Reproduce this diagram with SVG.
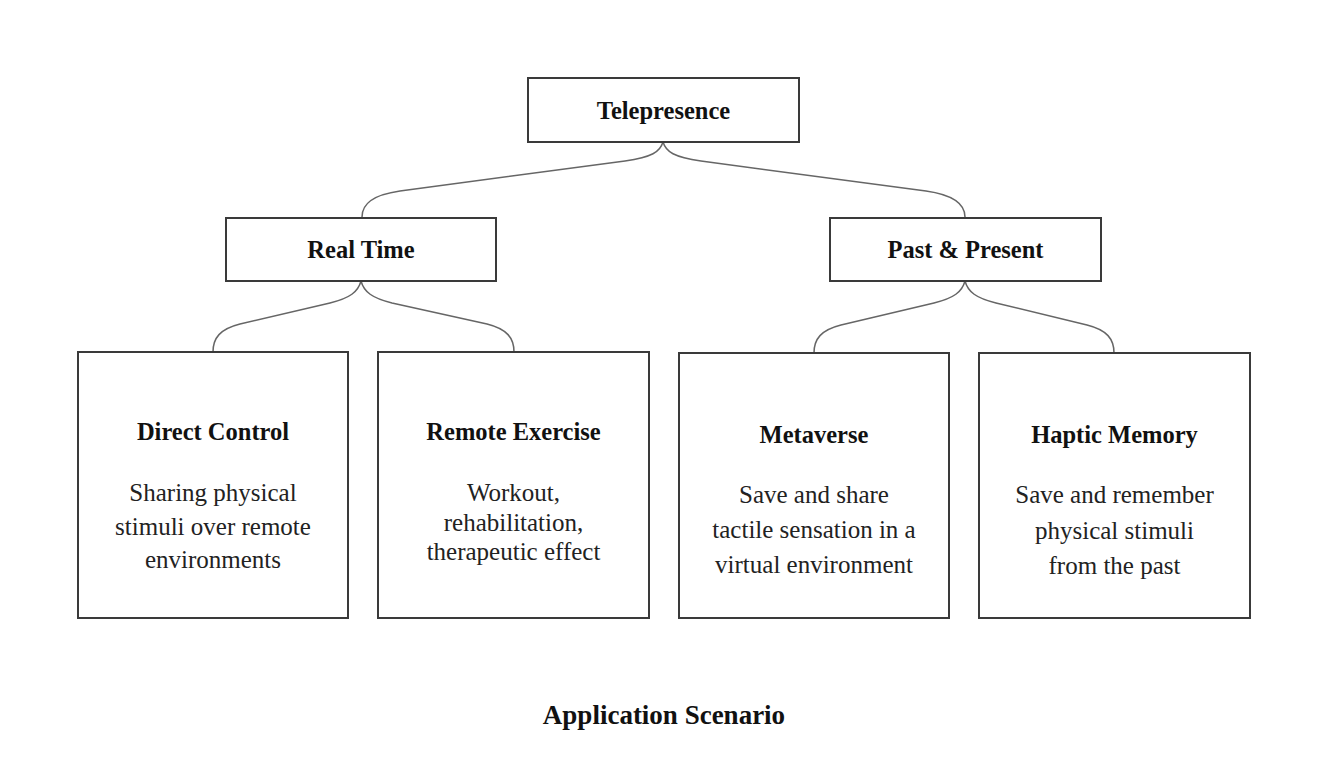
<svg xmlns="http://www.w3.org/2000/svg" width="1320" height="770" viewBox="0 0 1320 770">
<style>
.box{fill:#fff;stroke:#3a3a3a;stroke-width:2}
.t{font-family:"Liberation Serif","Times New Roman",serif;font-weight:bold;font-size:24.5px;fill:#111;text-anchor:middle}
.b{font-family:"Liberation Serif","Times New Roman",serif;font-size:25px;fill:#222;text-anchor:middle}
.c{fill:none;stroke:#666;stroke-width:1.5}
</style>
<rect width="1320" height="770" fill="#fff"/>
<g id="connectors">
<path class="c" d="M663,142 C660,152 652,157 625,161 L400,191 C372,195 362,204 362,217"/>
<path class="c" d="M663,142 C666,152 674,157 701,161 L926,191 C954,195 965,204 965,217"/>
<path class="c" d="M361,281 C358,292 350,298 330,303 L240,324 C220,329 213,338 213,352"/>
<path class="c" d="M361,281 C364,292 372,298 392,303 L487,324 C507,329 514,338 514,352"/>
<path class="c" d="M965,281 C962,292 954,298 934,303 L841,325 C821,330 814,339 814,353"/>
<path class="c" d="M965,281 C968,292 976,298 996,303 L1087,325 C1107,330 1114,339 1114,353"/>
</g>
<g id="telepresence">
<rect class="box" x="528" y="78" width="271" height="64"/>
<text class="t" x="663.5" y="119">Telepresence</text>
</g>
<g id="real-time">
<rect class="box" x="226" y="218" width="270" height="63"/>
<text class="t" x="361" y="258">Real Time</text>
</g>
<g id="past-present">
<rect class="box" x="830" y="218" width="271" height="63"/>
<text class="t" x="965.5" y="258">Past &amp; Present</text>
</g>
<g id="direct-control">
<rect class="box" x="78" y="352" width="270" height="266"/>
<text class="t" x="213" y="440">Direct Control</text>
<text class="b" x="213" y="501">Sharing physical</text>
<text class="b" x="213" y="535">stimuli over remote</text>
<text class="b" x="213" y="568">environments</text>
</g>
<g id="remote-exercise">
<rect class="box" x="378" y="352" width="271" height="266"/>
<text class="t" x="513.5" y="440">Remote Exercise</text>
<text class="b" x="513.5" y="501">Workout,</text>
<text class="b" x="513.5" y="531">rehabilitation,</text>
<text class="b" x="513.5" y="560">therapeutic effect</text>
</g>
<g id="metaverse">
<rect class="box" x="679" y="353" width="270" height="265"/>
<text class="t" x="814" y="443">Metaverse</text>
<text class="b" x="814" y="503">Save and share</text>
<text class="b" x="814" y="538">tactile sensation in a</text>
<text class="b" x="814" y="573">virtual environment</text>
</g>
<g id="haptic-memory">
<rect class="box" x="979" y="353" width="271" height="265"/>
<text class="t" x="1114.5" y="443">Haptic Memory</text>
<text class="b" x="1114.5" y="503">Save and remember</text>
<text class="b" x="1114.5" y="539">physical stimuli</text>
<text class="b" x="1114.5" y="574">from the past</text>
</g>
<g id="caption">
<text class="t" x="664" y="724" style="font-size:27px">Application Scenario</text>
</g>
</svg>
